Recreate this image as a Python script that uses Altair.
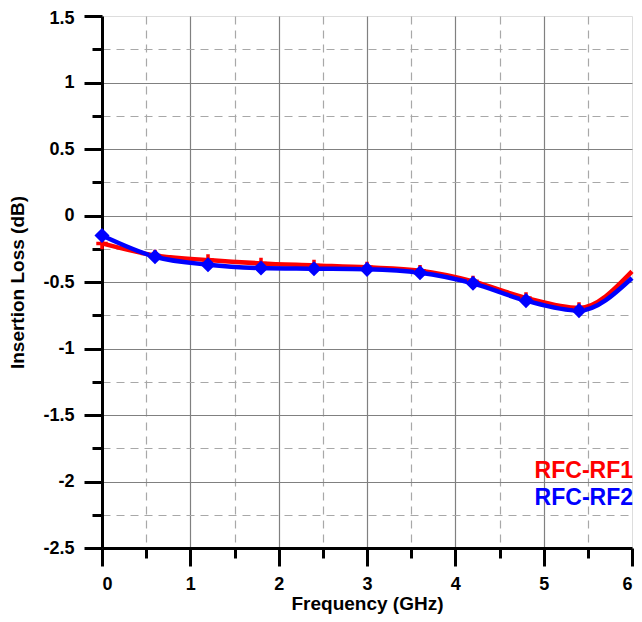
import altair as alt
import pandas as pd

# ---- data ----
freq = [0.0, 0.6, 1.2, 1.8, 2.4, 3.0, 3.6, 4.2, 4.8, 5.4]
rf1 = [-0.21, -0.30, -0.335, -0.36, -0.375, -0.39, -0.415, -0.495, -0.62, -0.695]
rf2 = [-0.15, -0.31, -0.37, -0.395, -0.40, -0.405, -0.43, -0.51, -0.64, -0.715]
line_end_freq = [6.0]
rf1_end = [-0.42]
rf2_end = [-0.47]

series_names = ["RFC-RF1", "RFC-RF2"]
series_colors = ["#ff0000", "#0000ff"]

x_ticks = [0, 0.5, 1, 1.5, 2, 2.5, 3, 3.5, 4, 4.5, 5, 5.5, 6]
y_ticks = [-2.5, -2.25, -2, -1.75, -1.5, -1.25, -1, -0.75, -0.5, -0.25,
           0, 0.25, 0.5, 0.75, 1, 1.25, 1.5]

FONT = "Liberation Sans"

markers = pd.DataFrame({
    "freq": freq * 2,
    "loss": rf1 + rf2,
    "series": [series_names[0]] * len(freq) + [series_names[1]] * len(freq),
})
lines = pd.DataFrame({
    "freq": (freq + line_end_freq) * 2,
    "loss": rf1 + rf1_end + rf2 + rf2_end,
    "series": [series_names[0]] * (len(freq) + 1) + [series_names[1]] * (len(freq) + 1),
})

x_major = "datum.value % 1 == 0"
y_major = "abs(datum.value * 2 - round(datum.value * 2)) < 0.001"
x_edge = "datum.value == 0 || datum.value == 6"
y_edge = "datum.value == -2.5 || datum.value == 1.5"


def axis(major, edge, title, **kw):
    return alt.Axis(
        values=kw.pop("values"),
        title=title,
        labelExpr=f"({major}) ? '' + datum.value : ''",
        tickSize={"condition": {"test": major, "value": 18}, "value": 10},
        tickWidth=3,
        tickColor="black",
        domainColor="black",
        domainWidth=3,
        grid=True,
        gridColor={"condition": {"test": major, "value": "#808080"}, "value": "#a8a8a8"},
        gridDash={"condition": {"test": major, "value": [1, 0]}, "value": [8, 6]},
        gridOpacity={"condition": {"test": edge, "value": 0}, "value": 1},
        gridWidth=1.2,
        labelFont=FONT,
        labelFontSize=18,
        labelFontWeight="bold",
        labelColor="black",
        labelOverlap=False,
        titleFont=FONT,
        titleFontSize=19,
        titleFontWeight="bold",
        titleColor="black",
        **kw,
    )


x_enc = alt.X("freq:Q",
              scale=alt.Scale(domain=[0, 6], nice=False, zero=False),
              axis=axis(x_major, x_edge, "Frequency (GHz)", values=x_ticks,
                        labelPadding=9, titlePadding=1))
y_enc = alt.Y("loss:Q",
              scale=alt.Scale(domain=[-2.5, 1.5], nice=False, zero=False),
              axis=axis(y_major, y_edge, "Insertion Loss (dB)", values=y_ticks,
                        labelPadding=10, titlePadding=15,
                        labelOffset={"condition": {"test": "datum.value == 1.5", "value": 2},
                                     "value": 0}))
color_enc = alt.Color("series:N",
                      scale=alt.Scale(domain=series_names, range=series_colors),
                      legend=None)

line_layer = alt.Chart(lines).mark_line(
    strokeWidth=4.5, interpolate="monotone"
).encode(x=x_enc, y=y_enc, color=color_enc, detail="series:N")

red_pts = alt.Chart(markers).transform_filter(
    alt.datum.series == series_names[0]
).mark_point(
    shape="M0,-1L0,1M-1,0L1,0", size=130, strokeWidth=3.5, filled=False, opacity=1
).encode(x=x_enc, y=y_enc, color=color_enc)

blue_pts = alt.Chart(markers).transform_filter(
    alt.datum.series == series_names[1]
).mark_point(
    shape="diamond", size=150, filled=True, opacity=1, strokeWidth=2
).encode(x=x_enc, y=y_enc, color=color_enc, stroke=alt.value("#0000ff"))

leg1 = alt.Chart(pd.DataFrame({"label": [series_names[0]]})).mark_text(
    align="right", baseline="alphabetic", font=FONT, fontSize=23,
    fontWeight="bold", color=series_colors[0]
).encode(x=alt.value(531), y=alt.value(462), text="label:N")

leg2 = alt.Chart(pd.DataFrame({"label": [series_names[1]]})).mark_text(
    align="right", baseline="alphabetic", font=FONT, fontSize=23,
    fontWeight="bold", color=series_colors[1]
).encode(x=alt.value(531), y=alt.value(489), text="label:N")

chart = alt.layer(line_layer, red_pts, blue_pts, leg1, leg2).properties(
    width=530,
    height=532,
    autosize=alt.AutoSizeParams(type="none"),
    padding={"left": 94, "top": 8, "right": 2, "bottom": 66},
).configure_view(
    stroke="black", strokeWidth=3
).configure(background="white")

chart.save("out.html", embed_options={"renderer": "svg", "actions": False})
